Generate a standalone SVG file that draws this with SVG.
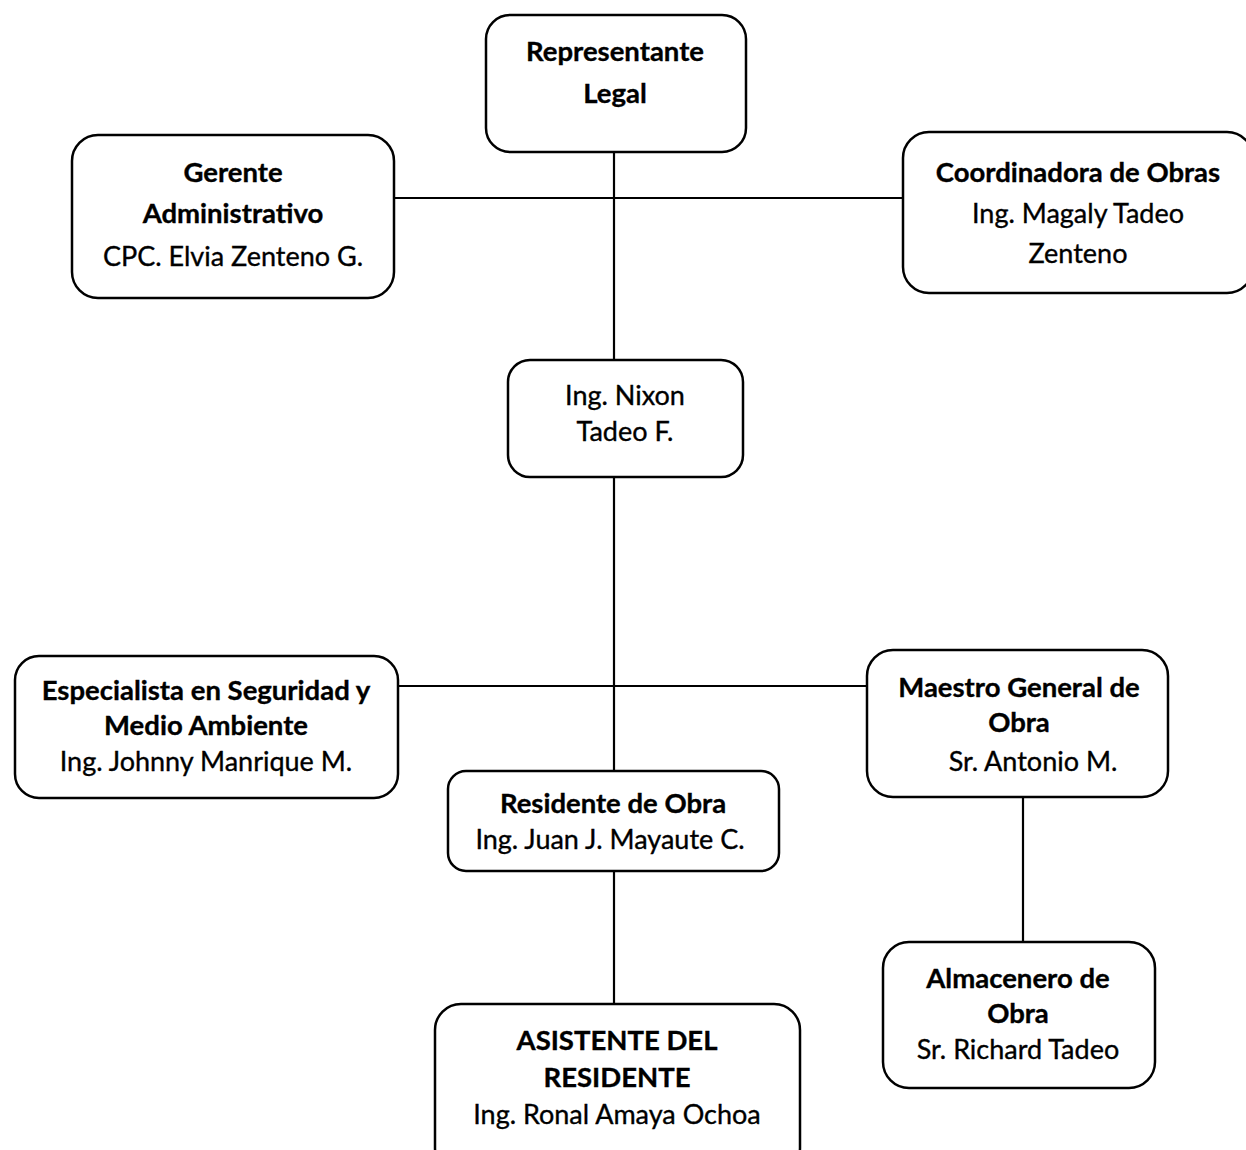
<svg xmlns="http://www.w3.org/2000/svg" width="1246" height="1150" viewBox="0 0 1246 1150">
<style>
.box{fill:#fff;stroke:#000;stroke-width:2.5}
.ln{stroke:#000;stroke-width:2.2;fill:none}
text{font-family:Lato,"Open Sans","Liberation Sans",sans-serif;font-size:27px;fill:#000;text-anchor:middle;stroke:#000;stroke-width:0.35}
.b{font-weight:700;font-size:27.5px}
</style>
<rect width="1246" height="1150" fill="#fff"/>
<g id="connectors">
<line class="ln" x1="614" y1="152" x2="614" y2="361"/>
<line class="ln" x1="394" y1="198" x2="903" y2="198"/>
<line class="ln" x1="614" y1="477" x2="614" y2="771"/>
<line class="ln" x1="398" y1="686" x2="867" y2="686"/>
<line class="ln" x1="614" y1="871" x2="614" y2="1004"/>
<line class="ln" x1="1023" y1="797" x2="1023" y2="942"/>
</g>
<g id="representante">
<rect class="box" x="486" y="15" width="260" height="137" rx="24"/>
<text class="b" x="615" y="61">Representante</text>
<text class="b" x="615" y="103">Legal</text>
</g>
<g id="gerente">
<rect class="box" x="72" y="135" width="322" height="163" rx="26"/>
<text class="b" x="233" y="182">Gerente</text>
<text class="b" x="233" y="223">Administrativo</text>
<text x="233" y="266">CPC. Elvia Zenteno G.</text>
</g>
<g id="coordinadora">
<rect class="box" x="903" y="132" width="350" height="161" rx="26"/>
<text class="b" x="1078" y="182">Coordinadora de Obras</text>
<text x="1078" y="223">Ing. Magaly Tadeo</text>
<text x="1078" y="263">Zenteno</text>
</g>
<g id="nixon">
<rect class="box" x="508" y="360" width="235" height="117" rx="22"/>
<text x="625" y="405">Ing. Nixon</text>
<text x="625" y="441">Tadeo F.</text>
</g>
<g id="especialista">
<rect class="box" x="15" y="656" width="383" height="142" rx="24"/>
<text class="b" x="206" y="700">Especialista en Seguridad y</text>
<text class="b" x="206" y="735">Medio Ambiente</text>
<text x="206" y="771">Ing. Johnny Manrique M.</text>
</g>
<g id="maestro">
<rect class="box" x="867" y="650" width="301" height="147" rx="26"/>
<text class="b" x="1019" y="697">Maestro General de</text>
<text class="b" x="1019" y="732">Obra</text>
<text x="1033" y="771">Sr. Antonio M.</text>
</g>
<g id="residente">
<rect class="box" x="448" y="771" width="331" height="100" rx="18"/>
<text class="b" x="613" y="813">Residente de Obra</text>
<text x="610" y="849">Ing. Juan J. Mayaute C.</text>
</g>
<g id="asistente">
<rect class="box" x="435" y="1004" width="365" height="170" rx="26"/>
<text class="b" x="617" y="1050">ASISTENTE DEL</text>
<text class="b" x="617" y="1087">RESIDENTE</text>
<text x="617" y="1124">Ing. Ronal Amaya Ochoa</text>
</g>
<g id="almacenero">
<rect class="box" x="883" y="942" width="272" height="146" rx="26"/>
<text class="b" x="1018" y="988">Almacenero de</text>
<text class="b" x="1018" y="1023">Obra</text>
<text x="1018" y="1059">Sr. Richard Tadeo</text>
</g>
</svg>
